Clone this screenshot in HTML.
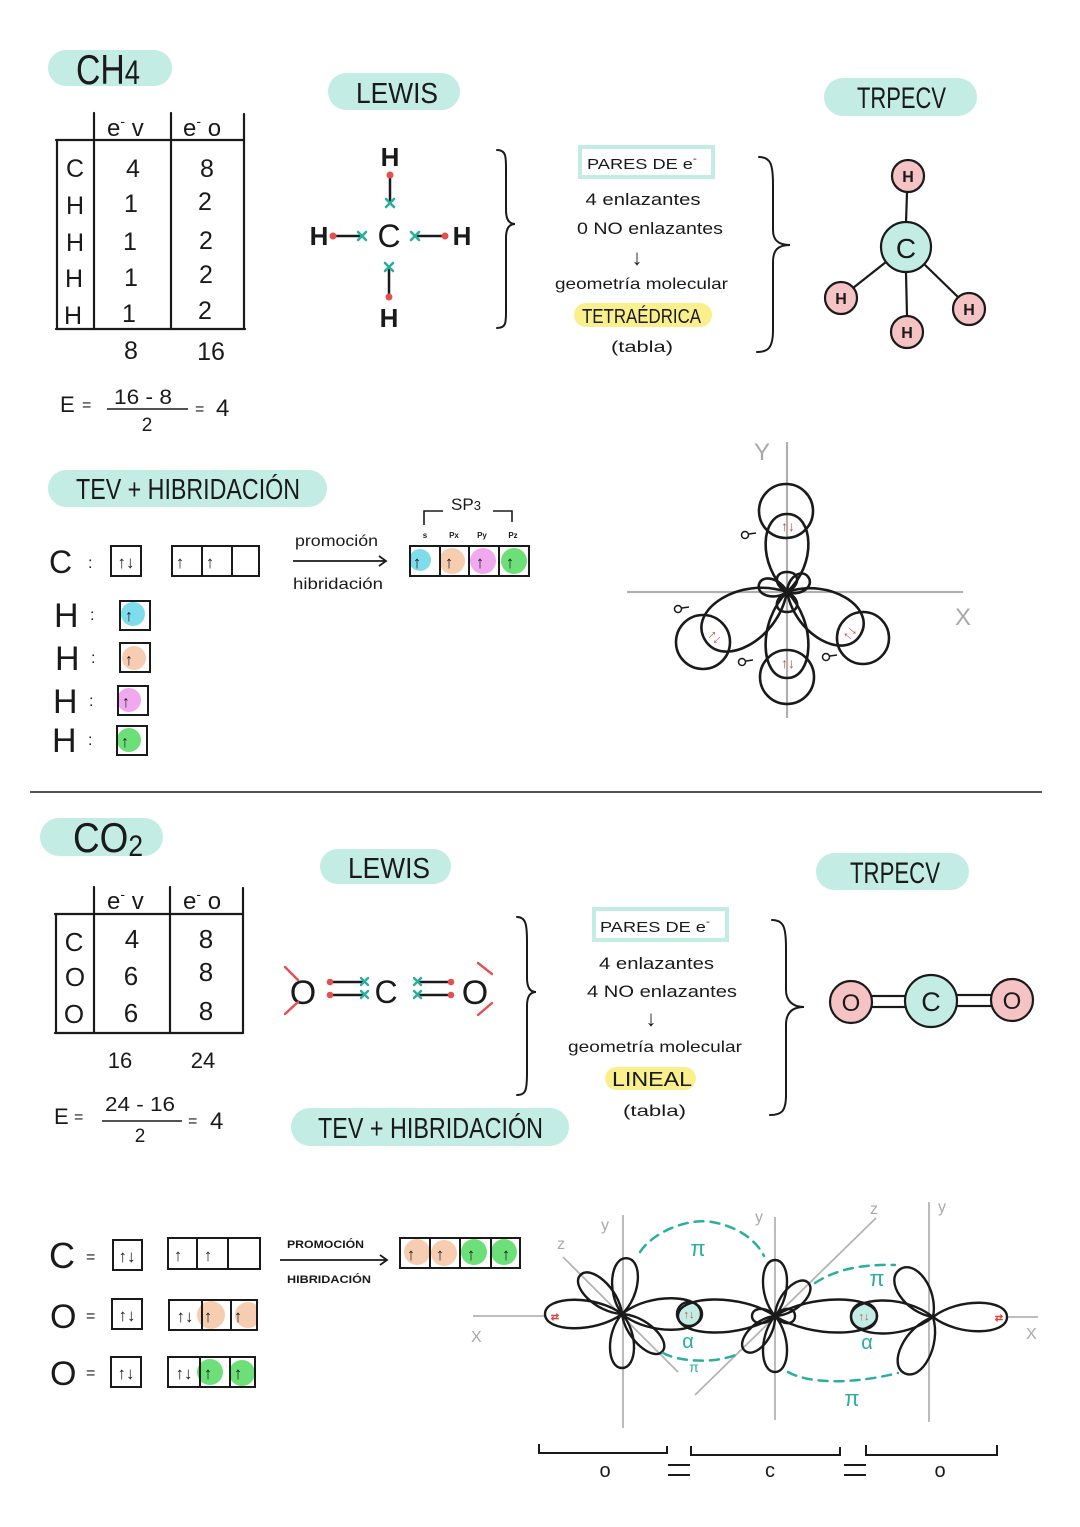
<!DOCTYPE html>
<html><head><meta charset="utf-8"><style>
html,body{margin:0;padding:0;background:#fff;}
svg{display:block;}
text{font-family:"Liberation Sans",sans-serif;fill:#1a1a1a;}
</style></head><body>
<svg width="1080" height="1527" viewBox="0 0 1080 1527" xmlns="http://www.w3.org/2000/svg">
<defs>
<clipPath id="ct"><circle cx="786" cy="511" r="27"/></clipPath>
<clipPath id="cb"><circle cx="787" cy="677" r="27"/></clipPath>
<clipPath id="cl"><circle cx="703" cy="642" r="27"/></clipPath>
<clipPath id="cr"><circle cx="863" cy="638" r="26"/></clipPath>
</defs>
<rect width="1080" height="1527" fill="#fff"/>

<!-- ============ CH4 SECTION ============ -->
<rect x="48" y="50" width="124" height="36" rx="18" fill="#c2ece4"/>
<text x="76" y="84" font-size="42" textLength="64" lengthAdjust="spacingAndGlyphs">CH<tspan font-size="34">4</tspan></text>

<rect x="328" y="73" width="132" height="37" rx="18.5" fill="#c2ece4"/>
<text x="356" y="103" font-size="29" textLength="82" lengthAdjust="spacingAndGlyphs">LEWIS</text>

<rect x="824" y="78" width="153" height="38" rx="19" fill="#c2ece4"/>
<text x="857" y="108" font-size="30" textLength="89" lengthAdjust="spacingAndGlyphs">TRPECV</text>

<!-- table CH4 -->
<g stroke="#1a1a1a" stroke-width="2.2" fill="none" stroke-linecap="round">
<line x1="56" y1="140" x2="244" y2="140"/>
<line x1="56" y1="329" x2="245" y2="329"/>
<line x1="57" y1="140" x2="57" y2="329"/>
<line x1="94" y1="113" x2="94" y2="329"/>
<line x1="171" y1="113" x2="171" y2="329"/>
<line x1="244" y1="114" x2="244" y2="329"/>
</g>
<text x="107" y="136" font-size="24">e<tspan font-size="14" dy="-10">-</tspan><tspan dy="10"> v</tspan></text>
<text x="183" y="136" font-size="24">e<tspan font-size="14" dy="-10">-</tspan><tspan dy="10"> o</tspan></text>
<g font-size="25" text-anchor="middle">
<text x="75" y="177">C</text><text x="75" y="214">H</text><text x="75" y="251">H</text><text x="74" y="287">H</text><text x="73" y="324">H</text>
<text x="133" y="177">4</text><text x="131" y="212">1</text><text x="130" y="250">1</text><text x="131" y="286">1</text><text x="129" y="322">1</text>
<text x="207" y="177">8</text><text x="205" y="210">2</text><text x="206" y="249">2</text><text x="206" y="283">2</text><text x="205" y="319">2</text>
<text x="131" y="359">8</text><text x="211" y="360">16</text>
</g>
<!-- formula CH4 -->
<text x="60" y="412" font-size="22">E</text>
<text x="82" y="410" font-size="16">=</text>
<text x="114" y="404" font-size="21" textLength="58" lengthAdjust="spacingAndGlyphs">16 - 8</text>
<line x1="107" y1="409" x2="188" y2="409" stroke="#1a1a1a" stroke-width="1.6"/>
<text x="147" y="431" font-size="19" text-anchor="middle">2</text>
<text x="195" y="414" font-size="16">=</text>
<text x="216" y="416" font-size="24">4</text>

<!-- Lewis CH4 -->
<g font-size="26" font-weight="bold" text-anchor="middle">
<text x="390" y="166">H</text>
<text x="389" y="327">H</text>
<text x="319" y="245">H</text>
<text x="462" y="245">H</text>
</g>
<text x="389" y="247" font-size="32" text-anchor="middle">C</text>
<g stroke="#1a1a1a" stroke-width="2.5">
<line x1="390" y1="176" x2="390" y2="203"/>
<line x1="389" y1="267" x2="389" y2="296"/>
<line x1="333" y1="236" x2="362" y2="236"/>
<line x1="415" y1="236" x2="445" y2="236"/>
</g>
<g fill="#e4504e">
<circle cx="390" cy="175" r="3.5"/><circle cx="389" cy="297" r="3.5"/><circle cx="333" cy="236" r="3.5"/><circle cx="445" cy="236" r="3.5"/>
</g>
<g stroke="#2aae9f" stroke-width="2.6" stroke-linecap="round">
<path d="M386,199 L394,207 M394,199 L386,207"/>
<path d="M385,263 L393,271 M393,263 L385,271"/>
<path d="M358,232 L366,240 M366,232 L358,240"/>
<path d="M411,232 L419,240 M419,232 L411,240"/>
</g>

<!-- braces -->
<g stroke="#1a1a1a" stroke-width="2" fill="none" stroke-linecap="round">
<path d="M497,150 C507,150 506,158 506,175 L506,210 C506,219 509,224 515,224 C509,224 506,229 506,238 L506,305 C506,322 507,328 497,328"/>
<path d="M759,157 C771,157 773,165 773,185 L773,230 C773,240 778,245 790,245 C778,245 773,250 773,262 L773,330 C773,348 768,352 757,352"/>
<path d="M517,917 C526,917 527,925 527,942 L527,978 C527,987 530,992 536,992 C530,992 527,997 527,1006 L527,1072 C527,1090 526,1095 517,1095"/>
<path d="M772,920 C784,920 786,928 786,948 L786,990 C786,1000 792,1007 804,1007 C792,1007 786,1013 786,1025 L786,1095 C786,1112 781,1115 770,1115"/>
</g>

<!-- PARES CH4 -->
<rect x="580" y="147" width="133" height="30" fill="#fff" stroke="#c2ece4" stroke-width="4"/>
<text x="587" y="169" font-size="15" textLength="110" lengthAdjust="spacingAndGlyphs">PARES  DE  e<tspan font-size="10" dy="-7">-</tspan></text>
<text x="643" y="205" font-size="17" text-anchor="middle" textLength="115" lengthAdjust="spacingAndGlyphs">4 enlazantes</text>
<text x="577" y="234" font-size="17" textLength="146" lengthAdjust="spacingAndGlyphs">0 NO  enlazantes</text>
<text x="637" y="265" font-size="22" text-anchor="middle">↓</text>
<text x="555" y="289" font-size="16" textLength="173" lengthAdjust="spacingAndGlyphs">geometría  molecular</text>
<rect x="574" y="303" width="138" height="24" rx="12" fill="#f9ef8c"/>
<text x="582" y="323" font-size="20" textLength="119" lengthAdjust="spacingAndGlyphs">TETRAÉDRICA</text>
<text x="611" y="352" font-size="16" textLength="62" lengthAdjust="spacingAndGlyphs">(tabla)</text>

<!-- TRPECV CH4 -->
<g stroke="#1a1a1a" stroke-width="2.2">
<line x1="907" y1="192" x2="906" y2="223"/>
<line x1="906" y1="273" x2="907" y2="316"/>
<line x1="886" y1="262" x2="853" y2="288"/>
<line x1="924" y1="264" x2="958" y2="297"/>
</g>
<g stroke="#1a1a1a" stroke-width="2.2">
<circle cx="906" cy="247" r="25" fill="#c2ece4"/>
<circle cx="908" cy="176" r="16" fill="#f5c3c3"/>
<circle cx="841" cy="298" r="16" fill="#f5c3c3"/>
<circle cx="907" cy="332" r="16" fill="#f5c3c3"/>
<circle cx="969" cy="309" r="16" fill="#f5c3c3"/>
</g>
<text x="906" y="258" font-size="28" text-anchor="middle">C</text>
<g font-size="16" font-weight="bold" text-anchor="middle">
<text x="908" y="182">H</text><text x="841" y="304">H</text><text x="907" y="338">H</text><text x="969" y="315">H</text>
</g>

<!-- TEV CH4 -->
<rect x="48" y="470" width="279" height="37" rx="18.5" fill="#c2ece4"/>
<text x="76" y="499" font-size="29" textLength="224" lengthAdjust="spacingAndGlyphs">TEV  +  HIBRIDACIÓN</text>

<text x="49" y="573" font-size="32">C</text>
<text x="88" y="568" font-size="16">:</text>
<rect x="111" y="546" width="30" height="30" fill="none" stroke="#1a1a1a" stroke-width="2"/>
<text x="126" y="568" font-size="17" text-anchor="middle">↑↓</text>
<rect x="172" y="546" width="87" height="30" fill="none" stroke="#1a1a1a" stroke-width="2"/>
<line x1="202" y1="546" x2="202" y2="576" stroke="#1a1a1a" stroke-width="2"/>
<line x1="232" y1="546" x2="232" y2="576" stroke="#1a1a1a" stroke-width="2"/>
<text x="180" y="568" font-size="17" text-anchor="middle">↑</text>
<text x="210" y="568" font-size="17" text-anchor="middle">↑</text>

<text x="295" y="546" font-size="16" textLength="83" lengthAdjust="spacingAndGlyphs">promoción</text>
<line x1="293" y1="561" x2="386" y2="561" stroke="#1a1a1a" stroke-width="1.8"/>
<polyline points="379,556 386,561 379,566" fill="none" stroke="#1a1a1a" stroke-width="1.8"/>
<text x="293" y="589" font-size="16" textLength="90" lengthAdjust="spacingAndGlyphs">hibridación</text>

<text x="451" y="510" font-size="17">SP<tspan font-size="13">3</tspan></text>
<polyline points="424,525 424,511 443,511" fill="none" stroke="#1a1a1a" stroke-width="1.6"/>
<polyline points="493,511 512,511 512,522" fill="none" stroke="#1a1a1a" stroke-width="1.6"/>
<g font-size="8" font-weight="bold" text-anchor="middle">
<text x="425" y="538">s</text><text x="454" y="538">Px</text><text x="482" y="538">Py</text><text x="513" y="538">Pz</text>
</g>
<circle cx="420" cy="560" r="11" fill="#7fdcec"/>
<circle cx="452" cy="561" r="13" fill="#f6cdb0"/>
<circle cx="483" cy="561" r="13" fill="#f0a8ef"/>
<circle cx="514" cy="561" r="13" fill="#6ddf79"/>
<rect x="410" y="546" width="119" height="30" fill="none" stroke="#1a1a1a" stroke-width="2"/>
<line x1="440" y1="546" x2="440" y2="576" stroke="#1a1a1a" stroke-width="2"/>
<line x1="469" y1="546" x2="469" y2="576" stroke="#1a1a1a" stroke-width="2"/>
<line x1="499" y1="546" x2="499" y2="576" stroke="#1a1a1a" stroke-width="2"/>
<g font-size="17" text-anchor="middle" font-weight="bold">
<text x="417" y="568">↑</text><text x="449" y="568">↑</text><text x="480" y="568">↑</text><text x="510" y="568">↑</text>
</g>

<!-- H rows -->
<g font-size="34">
<text x="54" y="627">H</text><text x="55" y="670">H</text><text x="53" y="713">H</text><text x="52" y="752">H</text>
</g>
<g font-size="16"><text x="90" y="620">:</text><text x="91" y="663">:</text><text x="89" y="706">:</text><text x="88" y="745">:</text></g>
<circle cx="133" cy="614" r="12" fill="#7fdcec"/>
<circle cx="134" cy="658" r="12" fill="#f6cdb0"/>
<circle cx="129" cy="700" r="12" fill="#f0a8ef"/>
<circle cx="129" cy="740" r="12" fill="#6ddf79"/>
<g fill="none" stroke="#1a1a1a" stroke-width="2">
<rect x="120" y="601" width="30" height="29"/>
<rect x="120" y="643" width="30" height="29"/>
<rect x="118" y="686" width="30" height="29"/>
<rect x="117" y="726" width="30" height="29"/>
</g>
<g font-size="16" font-weight="bold" text-anchor="middle">
<text x="129" y="621">↑</text><text x="129" y="665">↑</text><text x="126" y="707">↑</text><text x="125" y="747">↑</text>
</g>

<!-- CH4 orbital diagram -->
<g stroke="#b0b0b0" stroke-width="2.2">
<line x1="787" y1="442" x2="787" y2="718"/>
<line x1="627" y1="592" x2="963" y2="592"/>
</g>
<text x="754" y="460" font-size="24" style="fill:#a8a8a8">Y</text>
<text x="955" y="625" font-size="24" style="fill:#a8a8a8">X</text>
<!-- lens fills -->
<g fill="#c2ece4">
<path clip-path="url(#ct)" transform="translate(787,592) rotate(-90)" d="M0 0 C27 -30,78 -27,78 0 C78 27,27 30,0 0Z"/>
<path clip-path="url(#cb)" transform="translate(787,592) rotate(90)" d="M0 0 C30 -30,86 -27,86 0 C86 27,30 30,0 0Z"/>
<path clip-path="url(#cl)" transform="translate(787,592) rotate(150)" d="M0 0 C33 -38,95 -34,95 0 C95 34,33 38,0 0Z"/>
<path clip-path="url(#cr)" transform="translate(787,592) rotate(30)" d="M0 0 C30 -34,85 -31,85 0 C85 31,30 34,0 0Z"/>
</g>
<g fill="none" stroke="#1a1a1a" stroke-width="2.6">
<path transform="translate(787,592) rotate(-90)" d="M0 0 C27 -30,78 -27,78 0 C78 27,27 30,0 0Z"/>
<path transform="translate(787,592) rotate(90)" d="M0 0 C30 -30,86 -27,86 0 C86 27,30 30,0 0Z"/>
<path transform="translate(787,592) rotate(150)" d="M0 0 C33 -38,95 -34,95 0 C95 34,33 38,0 0Z"/>
<path transform="translate(787,592) rotate(30)" d="M0 0 C30 -34,85 -31,85 0 C85 31,30 34,0 0Z"/>
<path transform="translate(787,592) rotate(-90)" d="M0 0 C7 -14,20 -13,20 0 C20 13,7 14,0 0Z"/>
<path transform="translate(787,592) rotate(90)" d="M0 0 C7 -14,20 -13,20 0 C20 13,7 14,0 0Z"/>
<path transform="translate(787,592) rotate(-165)" d="M0 0 C10 -12,29 -11,29 0 C29 11,10 12,0 0Z"/>
<path transform="translate(787,592) rotate(-35)" d="M0 0 C9 -12,26 -11,26 0 C26 11,9 12,0 0Z"/>
<circle cx="786" cy="511" r="27"/>
<circle cx="787" cy="677" r="27"/>
<circle cx="703" cy="642" r="27"/>
<circle cx="863" cy="638" r="26"/>
</g>
<g font-size="14" font-weight="bold" text-anchor="middle">
<text x="788" y="531" style="fill:#d9483f">↑↓</text>
<text x="788" y="668" style="fill:#d9483f">↑↓</text>
<text transform="translate(712,640) rotate(45)" style="fill:#d9483f">↑↓</text>
<text transform="translate(853,636) rotate(-50)" style="fill:#d9483f">↑↓</text>
</g>
<g fill="none" stroke="#1a1a1a" stroke-width="1.5">
<circle cx="745" cy="535" r="3.5"/><line x1="749" y1="534" x2="756" y2="533"/>
<circle cx="678" cy="609" r="3.5"/><line x1="682" y1="608" x2="689" y2="607"/>
<circle cx="742" cy="662" r="3.5"/><line x1="746" y1="661" x2="753" y2="660"/>
<circle cx="826" cy="657" r="3.5"/><line x1="830" y1="656" x2="837" y2="655"/>
</g>

<!-- divider -->
<line x1="30" y1="792" x2="1042" y2="792" stroke="#1a1a1a" stroke-width="1.6"/>

<!-- ============ CO2 SECTION ============ -->
<rect x="40" y="818" width="123" height="38" rx="19" fill="#c2ece4"/>
<text x="73" y="852" font-size="42" textLength="70" lengthAdjust="spacingAndGlyphs">CO<tspan font-size="30" dy="4">2</tspan></text>

<rect x="320" y="849" width="131" height="35" rx="17.5" fill="#c2ece4"/>
<text x="348" y="878" font-size="29" textLength="82" lengthAdjust="spacingAndGlyphs">LEWIS</text>

<rect x="816" y="853" width="153" height="37" rx="18.5" fill="#c2ece4"/>
<text x="850" y="883" font-size="30" textLength="90" lengthAdjust="spacingAndGlyphs">TRPECV</text>

<g stroke="#1a1a1a" stroke-width="2.2" fill="none" stroke-linecap="round">
<line x1="55" y1="914" x2="243" y2="914"/>
<line x1="55" y1="1033" x2="243" y2="1033"/>
<line x1="56" y1="914" x2="56" y2="1033"/>
<line x1="94" y1="887" x2="94" y2="1033"/>
<line x1="170" y1="887" x2="170" y2="1033"/>
<line x1="243" y1="888" x2="243" y2="1033"/>
</g>
<text x="107" y="909" font-size="24">e<tspan font-size="14" dy="-10">-</tspan><tspan dy="10"> v</tspan></text>
<text x="183" y="909" font-size="24">e<tspan font-size="14" dy="-10">-</tspan><tspan dy="10"> o</tspan></text>
<g font-size="26" text-anchor="middle">
<text x="74" y="951">C</text><text x="75" y="986">O</text><text x="74" y="1023">O</text>
<text x="132" y="948">4</text><text x="131" y="985">6</text><text x="131" y="1022">6</text>
<text x="206" y="948">8</text><text x="206" y="981">8</text><text x="206" y="1020">8</text>
<text x="120" y="1068" font-size="22">16</text><text x="203" y="1068" font-size="22">24</text>
</g>
<text x="54" y="1124" font-size="22">E</text>
<text x="74" y="1122" font-size="16">=</text>
<text x="105" y="1111" font-size="20" textLength="70" lengthAdjust="spacingAndGlyphs">24 - 16</text>
<line x1="102" y1="1121" x2="182" y2="1121" stroke="#1a1a1a" stroke-width="1.6"/>
<text x="140" y="1142" font-size="19" text-anchor="middle">2</text>
<text x="188" y="1126" font-size="16">=</text>
<text x="210" y="1129" font-size="24">4</text>

<!-- Lewis CO2 -->
<text x="303" y="1004" font-size="34" text-anchor="middle">O</text>
<text x="386" y="1003" font-size="32" text-anchor="middle">C</text>
<text x="475" y="1004" font-size="34" text-anchor="middle">O</text>
<g stroke="#e4504e" stroke-width="2.4" stroke-linecap="round">
<line x1="285" y1="967" x2="298" y2="980"/>
<line x1="285" y1="1014" x2="298" y2="1002"/>
<line x1="478" y1="963" x2="492" y2="974"/>
<line x1="478" y1="1015" x2="492" y2="1003"/>
</g>
<g stroke="#1a1a1a" stroke-width="2.5">
<line x1="330" y1="982" x2="364" y2="982"/>
<line x1="330" y1="995" x2="364" y2="995"/>
<line x1="418" y1="982" x2="451" y2="982"/>
<line x1="418" y1="995" x2="451" y2="995"/>
</g>
<g fill="#e4504e">
<circle cx="330" cy="982" r="3.3"/><circle cx="330" cy="995" r="3.3"/><circle cx="451" cy="982" r="3.3"/><circle cx="451" cy="995" r="3.3"/>
</g>
<g stroke="#2aae9f" stroke-width="2.4" stroke-linecap="round">
<path d="M361,978 L368,985 M368,978 L361,985"/>
<path d="M361,991 L368,998 M368,991 L361,998"/>
<path d="M414,978 L421,985 M421,978 L414,985"/>
<path d="M414,991 L421,998 M421,991 L414,998"/>
</g>

<rect x="291" y="1108" width="278" height="38" rx="19" fill="#c2ece4"/>
<text x="318" y="1138" font-size="29" textLength="225" lengthAdjust="spacingAndGlyphs">TEV  +  HIBRIDACIÓN</text>

<!-- PARES CO2 -->
<rect x="594" y="909" width="133" height="31" fill="#fff" stroke="#c2ece4" stroke-width="4"/>
<text x="600" y="932" font-size="15" textLength="110" lengthAdjust="spacingAndGlyphs">PARES  DE  e<tspan font-size="10" dy="-7">-</tspan></text>
<text x="599" y="969" font-size="17" textLength="115" lengthAdjust="spacingAndGlyphs">4 enlazantes</text>
<text x="587" y="997" font-size="17" textLength="150" lengthAdjust="spacingAndGlyphs">4  NO  enlazantes</text>
<text x="651" y="1026" font-size="22" text-anchor="middle">↓</text>
<text x="568" y="1052" font-size="16" textLength="174" lengthAdjust="spacingAndGlyphs">geometría  molecular</text>
<rect x="605" y="1067" width="91" height="23" rx="11.5" fill="#f9ef8c"/>
<text x="612" y="1086" font-size="20" textLength="80" lengthAdjust="spacingAndGlyphs">LINEAL</text>
<text x="623" y="1116" font-size="16" textLength="63" lengthAdjust="spacingAndGlyphs">(tabla)</text>

<!-- TRPECV CO2 -->
<g stroke="#1a1a1a" stroke-width="2.2" fill="#fff">
<rect x="870" y="996" width="37" height="11"/>
<rect x="954" y="995" width="40" height="11"/>
<circle cx="851" cy="1002" r="21" fill="#f5c3c3"/>
<circle cx="931" cy="1001" r="26" fill="#c2ece4"/>
<circle cx="1012" cy="1000" r="21" fill="#f5c3c3"/>
</g>
<text x="851" y="1011" font-size="24" text-anchor="middle">O</text>
<text x="931" y="1011" font-size="27" text-anchor="middle">C</text>
<text x="1012" y="1009" font-size="24" text-anchor="middle">O</text>

<!-- CO2 orbital boxes -->
<text x="49" y="1268" font-size="36">C</text>
<text x="86" y="1262" font-size="16">=</text>
<rect x="113" y="1240" width="29" height="30" fill="none" stroke="#1a1a1a" stroke-width="2"/>
<text x="127" y="1262" font-size="17" text-anchor="middle" font-weight="bold">↑↓</text>
<rect x="168" y="1238" width="92" height="31" fill="none" stroke="#1a1a1a" stroke-width="2"/>
<line x1="197" y1="1238" x2="197" y2="1269" stroke="#1a1a1a" stroke-width="2"/>
<line x1="228" y1="1238" x2="228" y2="1269" stroke="#1a1a1a" stroke-width="2"/>
<text x="178" y="1261" font-size="17" text-anchor="middle" font-weight="bold">↑</text>
<text x="208" y="1261" font-size="17" text-anchor="middle" font-weight="bold">↑</text>

<text x="287" y="1248" font-size="11" font-weight="bold" textLength="77" lengthAdjust="spacingAndGlyphs">PROMOCIÓN</text>
<line x1="280" y1="1260" x2="387" y2="1260" stroke="#1a1a1a" stroke-width="1.8"/>
<polyline points="380,1255 387,1260 380,1265" fill="none" stroke="#1a1a1a" stroke-width="1.8"/>
<text x="287" y="1283" font-size="11" font-weight="bold" textLength="84" lengthAdjust="spacingAndGlyphs">HIBRIDACIÓN</text>

<circle cx="417" cy="1252" r="13" fill="#f6cdb0"/>
<circle cx="444" cy="1253" r="13" fill="#f6cdb0"/>
<circle cx="474" cy="1252" r="13" fill="#6ddf79"/>
<circle cx="504" cy="1252" r="13" fill="#6ddf79"/>
<rect x="400" y="1238" width="120" height="30" fill="none" stroke="#1a1a1a" stroke-width="2"/>
<line x1="430" y1="1238" x2="430" y2="1268" stroke="#1a1a1a" stroke-width="2"/>
<line x1="460" y1="1238" x2="460" y2="1268" stroke="#1a1a1a" stroke-width="2"/>
<line x1="491" y1="1238" x2="491" y2="1268" stroke="#1a1a1a" stroke-width="2"/>
<g font-size="17" text-anchor="middle" font-weight="bold">
<text x="411" y="1260">↑</text><text x="440" y="1260">↑</text><text x="471" y="1260">↑</text><text x="506" y="1260">↑</text>
</g>

<text x="50" y="1328" font-size="34">O</text>
<text x="86" y="1321" font-size="16">=</text>
<rect x="112" y="1299" width="30" height="30" fill="none" stroke="#1a1a1a" stroke-width="2"/>
<text x="127" y="1321" font-size="17" text-anchor="middle" font-weight="bold">↑↓</text>
<circle cx="211" cy="1315" r="14" fill="#f6cdb0"/>
<circle cx="248" cy="1315" r="13" fill="#f6cdb0"/>
<rect x="257" y="1296" width="12" height="38" fill="#fff"/>
<rect x="169" y="1300" width="88" height="30" fill="none" stroke="#1a1a1a" stroke-width="2"/>
<line x1="202" y1="1300" x2="202" y2="1330" stroke="#1a1a1a" stroke-width="2"/>
<line x1="231" y1="1300" x2="231" y2="1330" stroke="#1a1a1a" stroke-width="2"/>
<text x="185" y="1322" font-size="17" text-anchor="middle" font-weight="bold">↑↓</text>
<text x="208" y="1322" font-size="17" text-anchor="middle" font-weight="bold">↑</text>
<text x="238" y="1322" font-size="17" text-anchor="middle" font-weight="bold">↑</text>

<text x="50" y="1385" font-size="34">O</text>
<text x="86" y="1378" font-size="16">=</text>
<rect x="111" y="1357" width="30" height="30" fill="none" stroke="#1a1a1a" stroke-width="2"/>
<text x="126" y="1379" font-size="17" text-anchor="middle" font-weight="bold">↑↓</text>
<circle cx="210" cy="1372" r="13" fill="#6ddf79"/>
<circle cx="242" cy="1373" r="13" fill="#6ddf79"/>
<rect x="168" y="1357" width="87" height="30" fill="none" stroke="#1a1a1a" stroke-width="2"/>
<line x1="200" y1="1357" x2="200" y2="1387" stroke="#1a1a1a" stroke-width="2"/>
<line x1="230" y1="1357" x2="230" y2="1387" stroke="#1a1a1a" stroke-width="2"/>
<text x="184" y="1379" font-size="17" text-anchor="middle" font-weight="bold">↑↓</text>
<text x="208" y="1379" font-size="17" text-anchor="middle" font-weight="bold">↑</text>
<text x="238" y="1379" font-size="17" text-anchor="middle" font-weight="bold">↑</text>

<!-- CO2 orbital diagram -->
<g stroke="#b4b4b4" stroke-width="1.8">
<line x1="473" y1="1316" x2="545" y2="1316"/>
<line x1="1007" y1="1317" x2="1038" y2="1317"/>
<line x1="623" y1="1215" x2="623" y2="1428"/>
<line x1="775" y1="1217" x2="775" y2="1420"/>
<line x1="929" y1="1202" x2="929" y2="1422"/>
<line x1="563" y1="1257" x2="678" y2="1372"/>
<line x1="695" y1="1395" x2="876" y2="1218"/>
</g>
<g font-size="16">
<text x="471" y="1342" style="fill:#a8a8a8">X</text>
<text x="1026" y="1339" style="fill:#a8a8a8">X</text>
<text x="601" y="1230" style="fill:#a8a8a8">y</text>
<text x="755" y="1222" style="fill:#a8a8a8">y</text>
<text x="938" y="1212" style="fill:#a8a8a8">y</text>
<text x="557" y="1249" style="fill:#a8a8a8">z</text>
<text x="870" y="1214" style="fill:#a8a8a8">z</text>
</g>
<!-- sigma circles fill -->
<circle cx="689" cy="1314" r="12" fill="#c2ece4"/>
<circle cx="864" cy="1316" r="13" fill="#c2ece4"/>
<g fill="none" stroke="#1a1a1a" stroke-width="2.4">
<!-- left O -->
<path transform="translate(622,1314) rotate(180)" d="M0 0 C27 -20,77 -18,77 0 C77 18,27 20,0 0Z"/>
<path transform="translate(622,1314) rotate(-85)" d="M0 0 C20 -18,56 -16,56 0 C56 16,20 18,0 0Z"/>
<path transform="translate(622,1314) rotate(90)" d="M0 0 C19 -17,54 -15,54 0 C54 15,19 17,0 0Z"/>
<path transform="translate(622,1314) rotate(-137)" d="M0 0 C20 -17,57 -15,57 0 C57 15,20 17,0 0Z"/>
<path transform="translate(622,1314) rotate(43)" d="M0 0 C19 -16,55 -14,55 0 C55 14,19 16,0 0Z"/>
<path transform="translate(622,1314) rotate(0)" d="M0 0 C27 -22,80 -20,80 0 C80 20,27 22,0 0Z"/>
<!-- C -->
<path transform="translate(775,1316) rotate(180)" d="M0 0 C34 -23,97 -21,97 0 C97 21,34 23,0 0Z"/>
<path transform="translate(775,1316) rotate(0)" d="M0 0 C36 -23,102 -21,102 0 C102 21,36 23,0 0Z"/>
<path transform="translate(775,1316) rotate(-90)" d="M0 0 C20 -17,56 -15,56 0 C56 15,20 17,0 0Z"/>
<path transform="translate(775,1316) rotate(90)" d="M0 0 C20 -17,56 -15,56 0 C56 15,20 17,0 0Z"/>
<path transform="translate(775,1316) rotate(-45)" d="M0 0 C16 -15,47 -13,47 0 C47 13,16 15,0 0Z"/>
<path transform="translate(775,1316) rotate(131)" d="M0 0 C16 -15,46 -13,46 0 C46 13,16 15,0 0Z"/>
<path transform="translate(775,1316) rotate(180)" d="M0 0 C8 -10,23 -9,23 0 C23 9,8 10,0 0Z"/>
<path transform="translate(775,1316) rotate(0)" d="M0 0 C7 -10,20 -9,20 0 C20 9,7 10,0 0Z"/>
<!-- right O -->
<path transform="translate(933,1317) rotate(180)" d="M0 0 C28 -23,82 -21,82 0 C82 21,28 23,0 0Z"/>
<path transform="translate(933,1317) rotate(0)" d="M0 0 C26 -20,74 -18,74 0 C74 18,26 20,0 0Z"/>
<path transform="translate(933,1317) rotate(-125)" d="M0 0 C20 -21,58 -19,58 0 C58 19,20 21,0 0Z"/>
<path transform="translate(933,1317) rotate(117)" d="M0 0 C22 -21,63 -19,63 0 C63 19,22 21,0 0Z"/>
<circle cx="689" cy="1314" r="12"/>
<circle cx="864" cy="1316" r="13"/>
</g>
<g font-size="11" font-weight="bold" text-anchor="middle">
<text x="689" y="1318" style="fill:#d9483f">↑↓</text>
<text x="864" y="1320" style="fill:#d9483f">↑↓</text>
<text x="555" y="1320" font-size="10" style="fill:#d9483f">⇄</text>
<text x="999" y="1321" font-size="10" style="fill:#d9483f">⇄</text>
</g>
<!-- pi bonds -->
<g fill="none" stroke="#2aae9f" stroke-width="2.5" stroke-dasharray="9 7" stroke-linecap="round">
<path d="M640,1252 C655,1230 690,1218 712,1222 C735,1226 755,1238 764,1256"/>
<path d="M663,1353 C680,1362 715,1364 738,1354"/>
<path d="M815,1283 C835,1270 860,1264 895,1265"/>
<path d="M788,1372 C805,1382 845,1386 898,1373"/>
</g>
<g text-anchor="middle">
<text x="698" y="1256" font-size="22" style="fill:#2aae9f">π</text>
<text x="694" y="1372" font-size="14" style="fill:#2aae9f">π</text>
<text x="877" y="1286" font-size="22" style="fill:#2aae9f">π</text>
<text x="852" y="1406" font-size="22" style="fill:#2aae9f">π</text>
<text x="688" y="1348" font-size="20" style="fill:#2aae9f">α</text>
<text x="867" y="1349" font-size="20" style="fill:#2aae9f">α</text>
</g>

<!-- bottom brackets -->
<g fill="none" stroke="#1a1a1a" stroke-width="2">
<polyline points="539,1444 539,1453 667,1453 667,1446"/>
<polyline points="691,1446 691,1455 840,1455 840,1447"/>
<polyline points="866,1445 866,1455 997,1455 997,1445"/>
<line x1="668" y1="1465" x2="690" y2="1465"/><line x1="668" y1="1475" x2="690" y2="1475"/>
<line x1="844" y1="1465" x2="866" y2="1465"/><line x1="844" y1="1475" x2="866" y2="1475"/>
</g>
<g font-size="20" text-anchor="middle">
<text x="605" y="1477">o</text>
<text x="770" y="1477">c</text>
<text x="940" y="1477">o</text>
</g>
</svg>
</body></html>
